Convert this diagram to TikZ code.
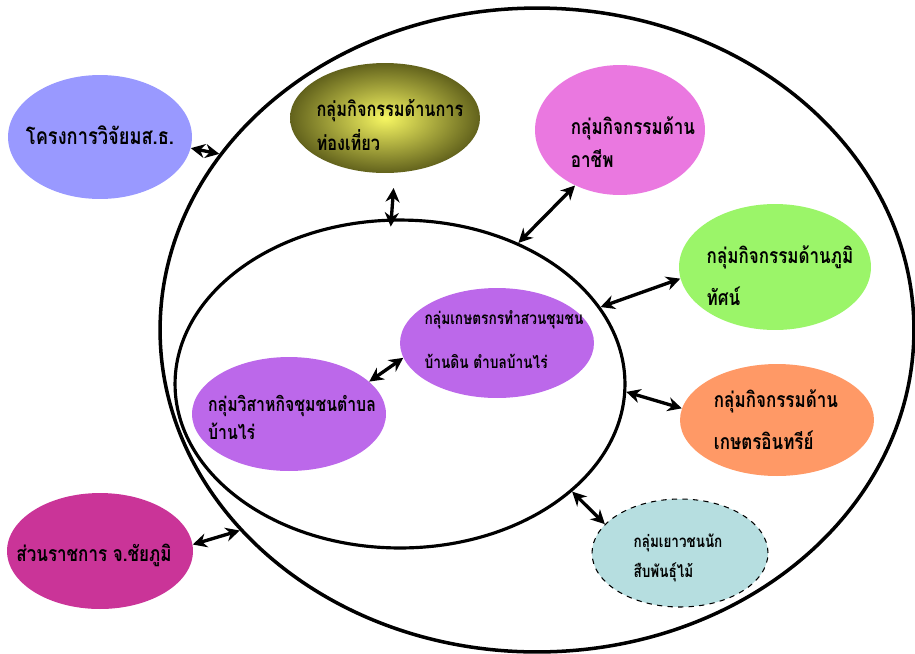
\documentclass[tikz,border=0pt]{standalone}
\usepackage{fontspec}
\usepackage{tikz}
\usetikzlibrary{shapes.geometric, arrows.meta}
\newfontfamily\thai[Script=Thai, FakeStretch=0.8]{Loma}

\definecolor{projblue}{RGB}{153,153,255}
\definecolor{tourolive}{RGB}{98,98,28}
\definecolor{touryellow}{RGB}{246,246,98}
\definecolor{careerpink}{RGB}{234,120,224}
\definecolor{landgreen}{RGB}{155,245,105}
\definecolor{organicorange}{RGB}{255,153,102}
\definecolor{farmpurple}{RGB}{188,104,234}
\definecolor{govmagenta}{RGB}{202,52,152}
\definecolor{youthteal}{RGB}{182,222,224}

\tikzset{
  ring/.style={draw, ellipse, line width=2pt, inner sep=0pt},
  bubble/.style={ellipse, inner sep=0pt, fill=#1},
  txt/.style={align=left, font=\thai\bfseries\fontsize{12.1}{#1}\selectfont},
  txt/.default=20pt,
  link/.style={{Stealth[length=8pt,width=8pt]}-{Stealth[length=8pt,width=8pt]}, line width=1.9pt}
}

\begin{document}
\begin{tikzpicture}[x=0.02cm, y=-0.02cm]
      \useasboundingbox (0,0) rectangle (915,653);

      % the two circles of the network
      \node [ring, minimum width=15.08cm, minimum height=12.88cm] (outer) at (537,330) {};
      \node [ring, line width=1.8pt, minimum width=9cm, minimum height=6.56cm] (inner) at (400,384) {};

      % groups outside
      \node [bubble=projblue, minimum width=3.68cm, minimum height=2.48cm] (proj) at (100,137) {};
      \node [txt, font=\thai\bfseries\fontsize{13}{20pt}\selectfont] (proj-t) at (100,135) {โครงการวิจัยมส.ธ.};

      \node [ellipse, inner sep=0pt, inner color=touryellow, outer color=tourolive,
             minimum width=3.8cm, minimum height=2.2cm] (tour) at (385,118) {};
      \node [txt, font=\thai\bfseries\fontsize{11.6}{19pt}\selectfont] (tour-t) at (390,125) {กลุ่มกิจกรรมด้านการ\\ท่องเที่ยว};

      \node [bubble=careerpink, minimum width=3.4cm, minimum height=2.6cm] (career) at (620,130) {};
      \node [txt=19pt] (career-t) at (633,142) {กลุ่มกิจกรรมด้าน\\อาชีพ};

      \node [bubble=landgreen, minimum width=3.84cm, minimum height=2.52cm] (land) at (775,267) {};
      \node [txt=24pt] (land-t) at (780,276) {กลุ่มกิจกรรมด้านภูมิ\\ทัศน์};

      \node [bubble=organicorange, minimum width=3.88cm, minimum height=2.24cm] (organic) at (777,420) {};
      \node [txt=24pt] (organic-t) at (776,420) {กลุ่มกิจกรรมด้าน\\เกษตรอินทรีย์};

      \node [bubble=youthteal, draw, dashed, line width=0.6pt,
             minimum width=3.52cm, minimum height=2.16cm] (youth) at (680,553) {};
      \node [txt, font=\thai\bfseries\fontsize{9.6}{17pt}\selectfont] (youth-t) at (678,558) {กลุ่มเยาวชนนัก\\สืบพันธุ์ไม้};

      \node [bubble=govmagenta, minimum width=3.72cm, minimum height=2.32cm] (gov) at (100,551) {};
      \node [txt] (gov-t) at (94,555) {ส่วนราชการ จ.ชัยภูมิ};

      % groups inside
      \node [bubble=farmpurple, minimum width=3.88cm, minimum height=2.2cm] (farm) at (497,343) {};
      \node [txt, font=\thai\bfseries\fontsize{9.75}{25pt}\selectfont] (farm-t) at (504,340)
            {กลุ่มเกษตรกรทำสวนชุมชน\\บ้านดิน ตำบลบ้านไร่};

      \node [bubble=farmpurple, minimum width=3.88cm, minimum height=2.28cm] (biz) at (289,414) {};
      \node [txt, font=\thai\bfseries\fontsize{11.25}{16pt}\selectfont] (biz-t) at (292,417) {กลุ่มวิสาหกิจชุมชนตำบล\\บ้านไร่};

      % links
      \draw [link] (proj.-7) -- (outer.151.5);
      \draw [link, shorten <=0.3cm, shorten >=-0.16cm] (tour.-80) -- (inner.93);
      \draw [link] (career.-129.8) -- (inner.50.9);
      \draw [link] (land.187.6) -- (inner.21);
      \draw [link] (organic.173) -- (inner.-2.3);
      \draw [link] (inner.-32.3) -- (youth.159.3);
      \draw [link] (gov.4.9) -- (outer.-146.7);
      \draw [link] (biz.22.8) -- (farm.189.5);
\end{tikzpicture}
\end{document}
